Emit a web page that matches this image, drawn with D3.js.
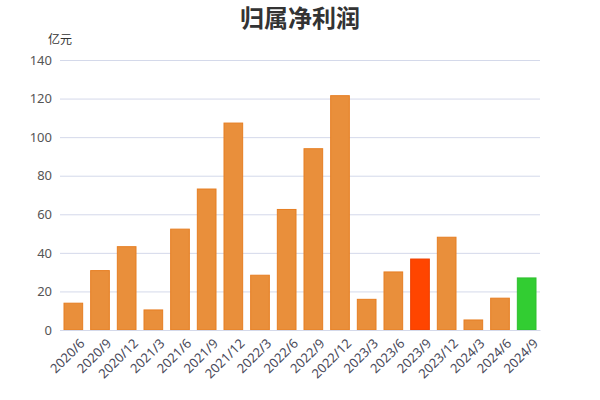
<!DOCTYPE html>
<html>
<head>
<meta charset="utf-8">
<script src="https://cdn.jsdelivr.net/npm/d3@7"></script>
<style>
  body { margin: 0; background: #fff; }
  svg { font-family: "Noto Sans CJK SC", "Noto Sans", sans-serif; }
</style>
</head>
<body>
<svg id="chart" width="600" height="400"></svg>
<script>
// quarter labels
const periods = ["2020/6", "2020/9", "2020/12", "2021/3", "2021/6", "2021/9", "2021/12",
  "2022/3", "2022/6", "2022/9", "2022/12", "2023/3", "2023/6", "2023/9", "2023/12",
  "2024/3", "2024/6", "2024/9"];
// 归属净利润, 亿元
const profit = [13.9, 30.8, 43.2, 10.4, 52.3, 73.1, 107.3, 28.4, 62.5, 94.0, 121.5,
  15.9, 30.1, 36.8, 48.1, 5.2, 16.5, 27.0];
const yTicks = [0, 20, 40, 60, 80, 100, 120, 140];
const highlight = { "2023/9": "#FF4500", "2024/9": "#32CD32" };

const margin = { top: 60, left: 60, bottom: 70, right: 60 };
const width = 600, height = 400;

const svg = d3.select("#chart");

const x = d3.scaleBand()
  .domain(periods)
  .range([margin.left, width - margin.right])
  .paddingInner(0.3)
  .paddingOuter(0.15);

const y = d3.scaleLinear()
  .domain([0, 140])
  .range([height - margin.bottom, margin.top]);

// grid lines
svg.append("g")
  .selectAll("line")
  .data(yTicks)
  .join("line")
  .attr("x1", margin.left)
  .attr("x2", width - margin.right)
  .attr("y1", d => y(d) + 0.5)
  .attr("y2", d => y(d) + 0.5)
  .attr("stroke", "#d4d9ea")
  .attr("stroke-width", 1);

// y axis
const yAxis = d3.axisLeft(y).tickValues(yTicks).tickSize(0).tickPadding(8);
svg.append("g")
  .attr("transform", `translate(${margin.left},0)`)
  .call(yAxis)
  .call(g => g.select(".domain").remove())
  .selectAll("text")
  .style("font-size", "13px")
  .style("font-family", "'Noto Sans', sans-serif")
  .attr("fill", "#555");

// unit
svg.append("text")
  .attr("x", 60)
  .attr("y", 44)
  .attr("text-anchor", "middle")
  .style("font-size", "12px")
  .attr("fill", "#333")
  .text("亿元");

// bars
svg.append("g")
  .selectAll("rect")
  .data(periods)
  .join("rect")
  .attr("x", d => x(d))
  .attr("y", (d, i) => y(profit[i]))
  .attr("width", x.bandwidth())
  .attr("height", (d, i) => y(0) - y(profit[i]))
  .attr("fill", d => highlight[d] || "#E98F3B")
  .attr("stroke", d => highlight[d] ? d3.color(highlight[d]).darker(0.2) : "#E67E22")
  .attr("stroke-width", 1);

// x axis
const xAxis = d3.axisBottom(x).tickSize(0).tickPadding(6);
svg.append("g")
  .attr("transform", `translate(0,${y(0)})`)
  .call(xAxis)
  .call(g => g.select(".domain").attr("stroke", "#d4d9ea"))
  .selectAll("text")
  .style("font-size", "13px")
  .style("font-family", "'Noto Sans', sans-serif")
  .attr("fill", "#4a4a5a")
  .attr("text-anchor", "end")
  .attr("dy", "0")
  .attr("transform", "translate(8,10) rotate(-45)");

// title
svg.append("text")
  .attr("x", 300)
  .attr("y", 27)
  .attr("text-anchor", "middle")
  .style("font-size", "24px")
  .style("font-weight", "bold")
  .attr("fill", "#333")
  .text("归属净利润");
</script>
</body>
</html>
